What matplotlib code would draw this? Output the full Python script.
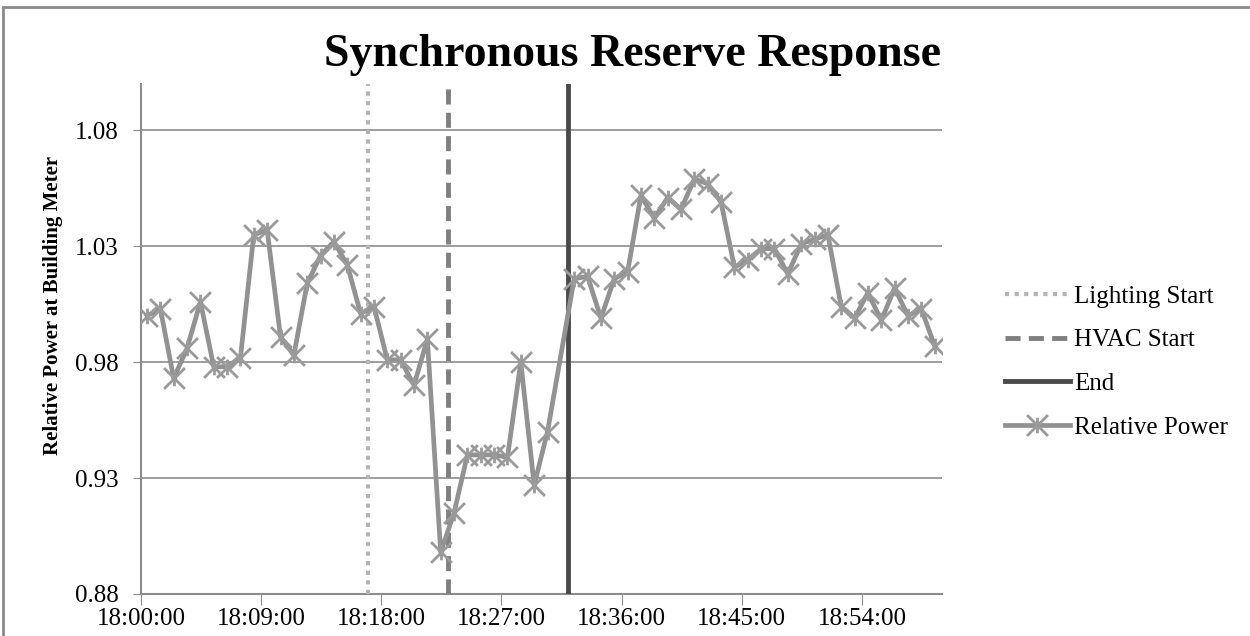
import numpy as np
import pandas as pd
import matplotlib
matplotlib.use("Agg")
import matplotlib.pyplot as plt
from matplotlib.patches import Rectangle
from matplotlib.path import Path

plt.rcParams['font.family'] = ['Liberation Serif', 'DejaVu Serif']

# one sample per minute, first at 18:00:27; sample 31 is missing
sample_start = "18:00:27"
relative_power = [
    1.000, 1.003, 0.973, 0.986, 1.006, 0.978, 0.978, 0.982, 1.035, 1.037,
    0.991, 0.983, 1.014, 1.026, 1.032, 1.022, 1.001, 1.004, 0.981, 0.981,
    0.970, 0.990, 0.898, 0.915, 0.940, 0.940, 0.940, 0.939, 0.980, 0.927,
    0.950, None, 1.016, 1.017, 0.999, 1.016, 1.019, 1.052, 1.042, 1.051,
    1.046, 1.059, 1.057, 1.049, 1.021, 1.024, 1.029, 1.029, 1.018, 1.031,
    1.033, 1.035, 1.004, 0.999, 1.010, 0.998, 1.012, 1.000, 1.003, 0.987,
]
event_times = ["18:17:00", "18:23:00", "18:32:00"]
event_labels = ["Lighting Start", "HVAC Start", "End"]
xtick_labels = ["18:00:00", "18:09:00", "18:18:00", "18:27:00", "18:36:00", "18:45:00", "18:54:00"]
yticks = [0.88, 0.93, 0.98, 1.03, 1.08]

t0 = pd.Timestamp("18:00:00")
def minutes(s):
    return (pd.Timestamp(s) - t0).total_seconds() / 60.0

sample_times = pd.date_range(sample_start, periods=len(relative_power), freq="min")
x = np.array([(t - t0).total_seconds() / 60.0 for t in sample_times])
y = np.array([np.nan if v is None else v for v in relative_power])
ok = ~np.isnan(y)

# excel style star: an X with a short vertical bar
star = Path([(-1, -1), (1, 1), (-1, 1), (1, -1), (0, -0.75), (0, 0.75)],
            [Path.MOVETO, Path.LINETO, Path.MOVETO, Path.LINETO, Path.MOVETO, Path.LINETO])

fig = plt.figure(figsize=(12.5, 6.36), dpi=100)
ax = fig.add_axes([141/1250, 1 - 594/636, (942-141)/1250, (594-84)/636])

# chart border
fig.patches.append(Rectangle((3/1250, -0.1), 1.2, 1 - 7/636 + 0.1, transform=fig.transFigure,
                             fill=False, edgecolor='#8a8a8a', lw=2))

styles = [dict(color='#b4b4b4', ls=(0, (1, 1.3)), lw=3),
          dict(color='#7f7f7f', ls=(0, (3.1, 1.7)), lw=3.5),
          dict(color='#4a4a4a', ls='-', lw=3.5)]
for t, lab, st in zip(event_times, event_labels, styles):
    ax.axvline(minutes(t), label=lab, zorder=3, **st)

ax.plot(x[ok], y[ok], color='#929292', lw=3.4, marker=star, markersize=15,
        markeredgecolor='#9a9a9a', markeredgewidth=2, label='Relative Power', zorder=4)

ax.set_xlim(0, 60)
ax.set_ylim(0.88, 1.10)
ax.set_yticks(yticks)
ax.set_yticklabels([f"{v:.2f}" for v in yticks])
ax.set_xticks([minutes(s) for s in xtick_labels])
ax.set_xticklabels(xtick_labels)
ax.grid(axis='y', color='#8c8c8c', lw=1.2)
ax.set_axisbelow(True)
for s in ['top', 'right']:
    ax.spines[s].set_visible(False)
for s in ['left', 'bottom']:
    ax.spines[s].set_color('#8c8c8c')
    ax.spines[s].set_linewidth(1.5)
ax.tick_params(axis='y', length=6, color='#8c8c8c', labelsize=18, pad=10)
ax.tick_params(axis='x', length=8, color='#8c8c8c', labelsize=18, pad=2)

ax.set_ylabel("Relative Power at Building Meter", fontsize=15, fontweight='bold')
ax.yaxis.set_label_coords(-0.098, (594 - 305) / 510)
fig.text(633/1250, 1 - 55/636, "Synchronous Reserve Response", ha='center', va='center',
         fontsize=33, fontweight='bold')

fig.legend(loc='center left', bbox_to_anchor=(982/1250, 1 - 362/636), frameon=False,
           fontsize=18, handlelength=2.6, labelspacing=0.85, handletextpad=0.2, numpoints=1)

fig.savefig("out.png", dpi=100)
